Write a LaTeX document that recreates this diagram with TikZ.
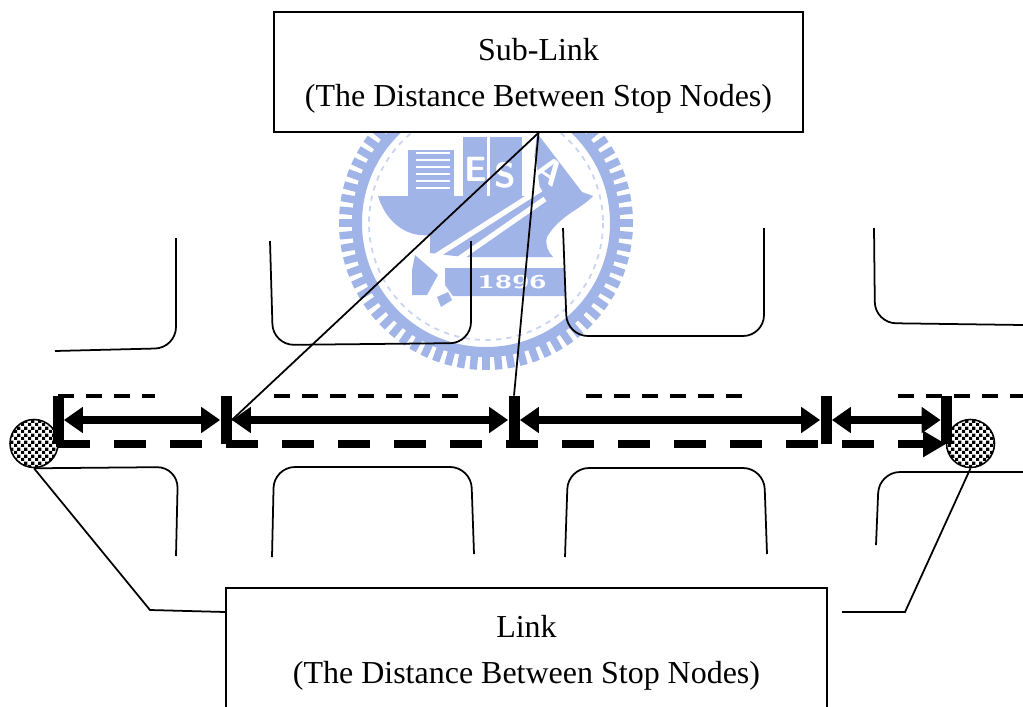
\documentclass[tikz,border=0pt]{standalone}
\usepackage{fontspec}
\setmainfont{Liberation Serif}
\usetikzlibrary{arrows.meta,patterns}
\definecolor{logoblue}{HTML}{A1B4E8}
\definecolor{logopale}{HTML}{C9D4F2}
\newcommand{\toplinerule}{\rule{0pt}{17pt}}
\pgfdeclarepatternformonly{finecheck}{\pgfqpoint{0pt}{0pt}}{\pgfqpoint{4pt}{4pt}}{\pgfqpoint{4pt}{4pt}}{
    \pgfpathrectangle{\pgfqpoint{0pt}{0pt}}{\pgfqpoint{2pt}{2pt}}
    \pgfpathrectangle{\pgfqpoint{2pt}{2pt}}{\pgfqpoint{2pt}{2pt}}
    \pgfusepath{fill}
}
\tikzset{
    labelbox/.style={draw, line width=1pt, fill=white, align=center, inner sep=0pt,
        font=\fontsize{18.2}{26.7}\selectfont},
    stopnode/.style={circle, draw, line width=0.9pt, minimum size=0.96cm, inner sep=0pt,
        pattern=finecheck},
    stopbar/.style={fill=black, minimum width=0.22cm, minimum height=0.96cm, inner sep=0pt},
    spanarrow/.style={line width=0.15cm, {Triangle[length=0.38cm,width=0.5cm]}-{Triangle[length=0.38cm,width=0.5cm]}},
    roadline/.style={line width=1pt, rounded corners=0.42cm},
    leadline/.style={line width=1pt},
    logotext/.style={white, font=\sffamily\bfseries\fontsize{20}{20}\selectfont}
}

\begin{document}
\begin{tikzpicture}[x=0.02cm, y=-0.02cm]
    \useasboundingbox (0,0) rectangle (1023,706);
    % watermark
    \coordinate (logoc) at (486,223);
    \foreach \a in {0,5,...,355} {
        \draw[logoblue, line width=0.15cm] ([shift={(\a:130)}]logoc) -- ([shift={(\a:147)}]logoc);
    }
    \draw[logoblue, line width=0.2cm] (logoc) circle (129);
    \draw[logopale, line width=1pt, dashed] (logoc) circle (117);
    \fill[logoblue] (378,196) -- (530,196) -- (537,133) -- (582,192) -- (593,196)
        .. controls (580,210) and (560,215) .. (547,237)
        .. controls (545,245) and (548,252) .. (553,257) -- (463,257) -- (430,253) -- (430,235)
        .. controls (405,238) and (385,220) .. (378,196);
    \fill[logoblue] (408,150) rectangle (454,196);
    \fill[logoblue] (463,137) rectangle (487,196);
    \fill[logoblue] (490,137) rectangle (522,196);
    \fill[white] (522,140) -- (526,196) -- (540,190) -- (536,160) -- cycle;
    \foreach \y in {153,160,167,174,181,188} {
        \draw[white, line width=1pt] (416,\y) -- (450,\y);
    }
    \node[logotext] (logoe) at (476,169) {E};
    \node[logotext] (logos) at (505,175) {S};
    \node[logotext, rotate=-35] (logoa) at (550,171) {A};
    \draw[white, line width=3pt] (425,263) -- (541,189);
    \draw[white, line width=3pt] (440,272) -- (545,199);
    \fill[logoblue] (415,255) -- (438,275) -- (427,295) -- (412,295) -- (412,270) -- cycle;
    \fill[logoblue] (437,297) -- (448,292) -- (452,300) -- (441,307) -- cycle;
    \fill[logoblue] (445,268) -- (565,268) -- (565,296) -- (453,296) -- (445,285) -- cycle;
    \node[white, xscale=1.7, font=\sffamily\bfseries\fontsize{10.5}{10.5}\selectfont] (logoyear) at (512,282) {1896};
    % roads, upper side
    \draw[roadline] (176,238) -- (176,348) -- (55,351);
    \draw[roadline] (270,241) -- (273,345) -- (471,343) -- (471,241);
    \draw[roadline] (563,228) -- (567,336) -- (764,336) -- (764,228);
    \draw[roadline] (874,228) -- (875,323) -- (1023,325);
    % stop nodes
    \node[stopnode] (stopa) at (34,443.5) {};
    \node[stopnode] (stopb) at (970.5,443.5) {};
    % roads, lower side
    \draw[roadline] (stopa.south) -- (178,467) -- (176,556);
    \draw[roadline] (272,557) -- (274,467) -- (471,467) -- (474,554);
    \draw[roadline] (565,557) -- (568,468) -- (764,468) -- (767,554);
    \draw[roadline] (876,545) -- (879,472) -- (1023,472);
    % dashes
    \draw[line width=0.08cm, dash pattern=on 0.32cm off 0.24cm] (58,396) -- (155,396);
    \draw[line width=0.08cm, dash pattern=on 0.32cm off 0.24cm] (274,396) -- (460,396);
    \draw[line width=0.08cm, dash pattern=on 0.32cm off 0.24cm] (586,396) -- (745,396);
    \draw[line width=0.08cm, dash pattern=on 0.32cm off 0.24cm] (898,396) -- (1023,396);
    \coordinate (dashstart) at (58,444);
    \coordinate (dashend) at (946,444);
    \draw[line width=0.16cm, dash pattern=on 0.64cm off 0.48cm, -{Triangle[length=0.46cm,width=0.5cm]}] (dashstart) -- (dashend);
    % bars and spans
    \foreach \name/\x in {bara/58,barb/226,barc/514,bard/826,bare/946.5} {
        \node[stopbar] (\name) at (\x,420) {};
    }
    \draw[spanarrow] (bara) -- (barb);
    \draw[spanarrow] (barb) -- (barc);
    \draw[spanarrow] (barc) -- (bard);
    \draw[spanarrow] (bard) -- (bare);
    % boxes
    \node[labelbox, minimum width=10.58cm, minimum height=2.4cm] (sublink) at (538.5,72) {\toplinerule Sub-Link\\(The Distance Between Stop Nodes)};
    \node[labelbox, minimum width=12.02cm, minimum height=2.44cm] (link) at (526.5,649) {\toplinerule Link\\(The Distance Between Stop Nodes)};
    % leaders
    \draw[leadline] (sublink.south) -- (barb.east);
    \draw[leadline] (sublink.south) -- (barc.north);
    \coordinate (bendl) at (150,610);
    \coordinate (bendr) at (905,612);
    \coordinate (linkgap) at (842,612);
    \draw[leadline] (stopa.south) -- (bendl) -- (link.west |- 0,612);
    \draw[leadline] (stopb.south) -- (bendr) -- (linkgap);
\end{tikzpicture}
\end{document}
